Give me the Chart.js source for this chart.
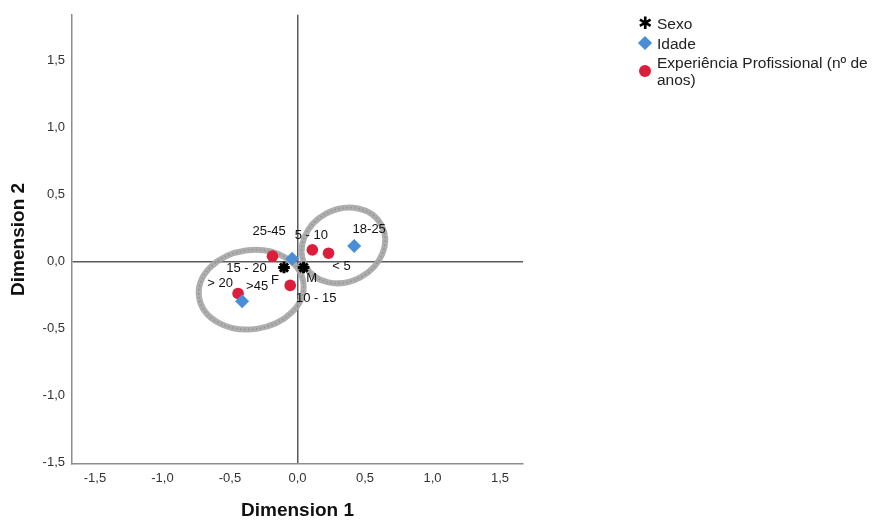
<!DOCTYPE html>
<html>
<head>
<meta charset="utf-8">
<script src="https://cdn.jsdelivr.net/npm/chart.js@4"></script>
<style>
  html, body { margin: 0; padding: 0; background: #fff; }
  #wrap { position: relative; width: 873px; height: 522px; }
  #legend { position: absolute; left: 638px; top: 15px; font: 15.5px "Liberation Sans", Arial, sans-serif; color: #222; }
  .item { position: relative; padding-left: 19px; line-height: 17px; margin-bottom: 2.5px; }
  .mk { position: absolute; left: 0; }
</style>
</head>
<body>
<div id="wrap">
  <canvas id="chart" width="873" height="522"></canvas>
  <div id="legend"></div>
</div>
<script>
// eixos
const tickValues = [-1.5, -1.0, -0.5, 0.0, 0.5, 1.0, 1.5];
const tickLabels = ['-1,5', '-1,0', '-0,5', '0,0', '0,5', '1,0', '1,5'];

// Sexo
const sexoLabels = ['F', 'M'];
const sexoX = [-0.10, 0.045];
const sexoY = [-0.045, -0.045];

// Idade
const idadeLabels = ['25-45', '18-25', '>45'];
const idadeX = [-0.04, 0.42, -0.41];
const idadeY = [0.02, 0.116, -0.296];

// Experiência Profissional
const expLabels = ['15 - 20', '5 - 10', '< 5', '10 - 15', '> 20'];
const expX = [-0.185, 0.11, 0.23, -0.054, -0.44];
const expY = [0.04, 0.087, 0.062, -0.178, -0.238];

// deslocamento dos rótulos em px
const sexoOffsets = [[-9, 13], [8, 11]];
const idadeOffsets = [[-23, -27], [15, -17], [15, -15]];
const expOffsets = [[-26, 12], [-1, -14], [13, 13], [26, 13], [-18, -10]];

// elipses (em unidades das dimensões)
const ellipses = [
    { x: -0.343, y: -0.21, rx: 0.39, ry: 0.295, rot: -8 },
    { x: 0.34, y: 0.12, rx: 0.32, ry: 0.27, rot: -28 }
];

const RED = '#dc1e3c';
const BLUE = '#4a8ed8';

function pts(xs, ys) {
    return xs.map((x, i) => ({ x: x, y: ys[i] }));
}

const ellipsePlugin = {
    id: 'ellipses',
    beforeDatasetsDraw(chart) {
        const ctx = chart.ctx;
        const xs = chart.scales.x, ys = chart.scales.y;
        ctx.save();
        ellipses.forEach(e => {
            const cx = xs.getPixelForValue(e.x);
            const cy = ys.getPixelForValue(e.y);
            const rx = xs.getPixelForValue(e.x + e.rx) - cx;
            const ry = cy - ys.getPixelForValue(e.y + e.ry);
            ctx.beginPath();
            ctx.ellipse(cx, cy, rx, ry, e.rot * Math.PI / 180, 0, Math.PI * 2);
            ctx.lineWidth = 6;
            ctx.strokeStyle = 'rgba(165,165,165,0.9)';
            ctx.stroke();
            ctx.lineWidth = 1.5;
            ctx.setLineDash([1.5, 2.5]);
            ctx.strokeStyle = 'rgba(120,120,120,0.5)';
            ctx.stroke();
            ctx.setLineDash([]);
        });
        ctx.restore();
    }
};

const labelPlugin = {
    id: 'pointLabels',
    afterDatasetsDraw(chart) {
        const ctx = chart.ctx;
        ctx.save();
        ctx.font = '13px "Liberation Sans", Arial, sans-serif';
        ctx.fillStyle = '#111';
        ctx.textAlign = 'center';
        ctx.textBaseline = 'middle';
        chart.data.datasets.forEach((ds, di) => {
            const meta = chart.getDatasetMeta(di);
            meta.data.forEach((el, i) => {
                const off = ds.offsets[i];
                ctx.fillText(ds.names[i], el.x + off[0], el.y + off[1]);
            });
        });
        ctx.restore();
    }
};

const axisTicks = {
    display: true,
    afterBuildTicks: s => { s.ticks = tickValues.map(v => ({ value: v })); },
    grid: {
        drawTicks: false,
        lineWidth: 1.5,
        color: c => (c.tick && c.tick.value === 0 ? '#5a5a5a' : 'rgba(0,0,0,0)')
    },
    border: { display: true, color: '#8c8c8c', width: 1.5 },
    ticks: {
        padding: 7,
        color: '#333',
        font: { size: 13, family: '"Liberation Sans", Arial, sans-serif' },
        callback: (v) => {
            const i = tickValues.indexOf(v);
            return i >= 0 ? tickLabels[i] : '';
        }
    }
};

const chart = new Chart(document.getElementById('chart').getContext('2d'), {
    type: 'scatter',
    data: {
        datasets: [{
            label: 'Sexo',
            data: pts(sexoX, sexoY),
            names: sexoLabels,
            offsets: sexoOffsets,
            pointStyle: 'star',
            pointRadius: 5.8,
            borderColor: '#000',
            backgroundColor: '#000',
            borderWidth: 3
        }, {
            label: 'Idade',
            data: pts(idadeX, idadeY),
            names: idadeLabels,
            offsets: idadeOffsets,
            pointStyle: 'rectRot',
            pointRadius: 7,
            borderColor: BLUE,
            backgroundColor: BLUE,
            borderWidth: 0
        }, {
            label: 'Experiência Profissional (nº de anos)',
            data: pts(expX, expY),
            names: expLabels,
            offsets: expOffsets,
            pointStyle: 'circle',
            pointRadius: 5.8,
            borderColor: RED,
            backgroundColor: RED,
            borderWidth: 0
        }]
    },
    options: {
        responsive: false,
        animation: false,
        layout: { padding: { top: 10, right: 350, left: 0, bottom: 0 } },
        plugins: { legend: { display: false }, tooltip: { enabled: false } },
        scales: {
            x: Object.assign({}, axisTicks, {
                min: -1.67, max: 1.67,
                afterFit: s => { s.height = 58; },
                title: {
                    display: true, text: 'Dimension 1', color: '#111',
                    font: { size: 19, weight: 'bold', family: '"Liberation Sans", Arial, sans-serif' },
                    padding: { top: 0, bottom: 0 }
                }
            }),
            y: Object.assign({}, axisTicks, {
                min: -1.51, max: 1.84,
                afterFit: s => { s.width = 72; },
                title: {
                    display: true, text: 'Dimension 2', color: '#111',
                    font: { size: 19, weight: 'bold', family: '"Liberation Sans", Arial, sans-serif' },
                    padding: { top: 7, bottom: 0 }
                }
            })
        }
    },
    plugins: [ellipsePlugin, labelPlugin]
});

// legenda em HTML (o texto quebra em duas linhas)
const legendItems = [
    { text: 'Sexo', mk: '<span class="mk" style="left:0;top:-2px;font:17px \'DejaVu Sans\';color:#000">✱</span>' },
    { text: 'Idade', mk: '<span class="mk" style="left:2px;top:3px;width:10px;height:10px;background:' + BLUE + ';transform:rotate(45deg)"></span>' },
    { text: 'Experiência Profissional (nº de<br>anos)', mk: '<span class="mk" style="left:1px;top:11px;width:12px;height:12px;border-radius:50%;background:' + RED + '"></span>' }
];
document.getElementById('legend').innerHTML = legendItems
    .map(it => '<div class="item">' + it.mk + it.text + '</div>').join('');
</script>
</body>
</html>
